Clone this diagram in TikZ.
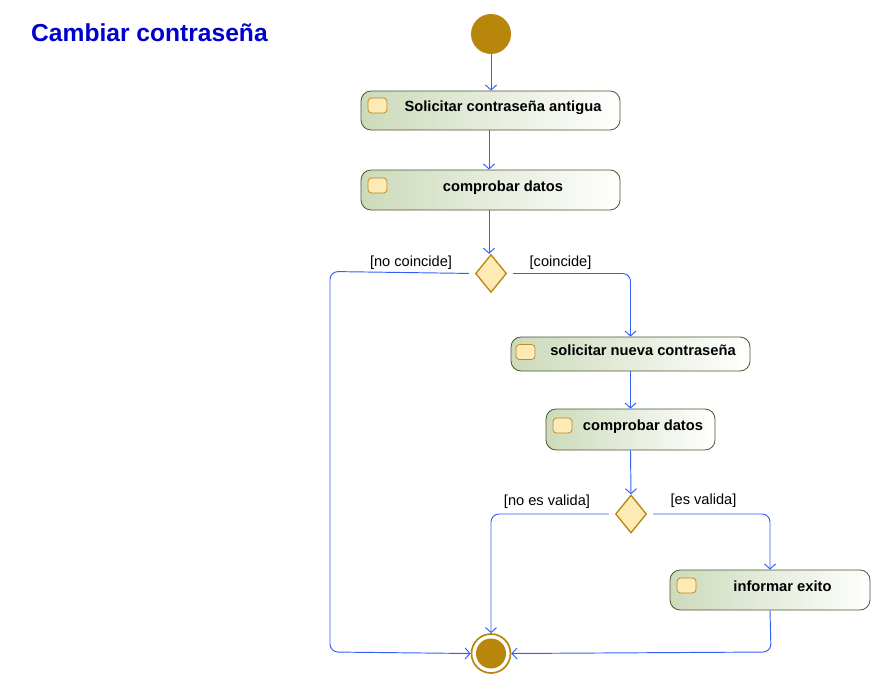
\documentclass[tikz,border=0pt]{standalone}
\usepackage{fontspec}
\setmainfont{Liberation Sans}
\usetikzlibrary{arrows.meta,shapes.geometric}
\definecolor{flow}{RGB}{50,95,250}
\definecolor{gold}{RGB}{184,134,11}
\definecolor{iconfill}{RGB}{253,234,180}
\definecolor{iconborder}{RGB}{192,140,40}
\definecolor{actborder}{RGB}{72,88,44}
\definecolor{actleft}{RGB}{204,218,186}
\definecolor{titleblue}{RGB}{0,0,205}
\begin{document}
\begin{tikzpicture}[x=1pt,y=-1pt,
  action/.style={draw=actborder, rounded corners=10pt, left color=actleft, right color=white,
    inner sep=0pt, line width=0.8pt, font=\fontsize{14.7}{17}\selectfont\bfseries,
    text height=11pt, text depth=9pt},
  icon/.style={draw=iconborder, fill=iconfill, rounded corners=3.5pt, minimum width=19pt,
    minimum height=15pt, inner sep=0pt, line width=0.8pt},
  decision/.style={diamond, draw=gold, fill=iconfill, minimum width=31pt, minimum height=38pt,
    inner sep=0pt, line width=1.3pt},
  flowline/.style={draw=flow, line width=0.95pt, -{Straight Barb[length=5pt,width=11pt]}},
  guard/.style={font=\fontsize{14.6}{17}\selectfont, inner sep=0pt, anchor=base}
]
\useasboundingbox (0,0) rectangle (881,688);
\node[font=\fontsize{24.6}{28}\selectfont\bfseries, text=titleblue, anchor=base west, inner sep=0pt] (title) at (31,41) {Cambiar contraseña};

\node[circle, fill=gold, minimum size=40pt, inner sep=0pt] (ini) at (491,34) {};

\node[action, minimum width=259pt, minimum height=39pt] (a1) at (490.5,110.5) {\hspace*{25pt}Solicitar contraseña antigua};
\node[icon] (i1) at (377.5,105.5) {};
\node[action, minimum width=259pt, minimum height=40pt] (a2) at (490.5,190) {\hspace*{25pt}comprobar datos};
\node[icon] (i2) at (377.5,185.5) {};
\node[decision] (d1) at (491,273.5) {};

\node[action, minimum width=239pt, minimum height=34pt] (a3) at (630.5,354) {\hspace*{25pt}solicitar nueva contraseña};
\node[icon] (i3) at (525.5,352) {};
\node[action, minimum width=169pt, minimum height=41pt] (a4) at (630.5,429.5) {\hspace*{25pt}comprobar datos};
\node[icon] (i4) at (562.5,425.5) {};
\node[decision] (d2) at (631,514) {};

\node[action, minimum width=200pt, minimum height=40pt] (a5) at (770,590) {\hspace*{25pt}informar exito};
\node[icon] (i5) at (686.5,585.5) {};

\node[circle, draw=gold, line width=1.7pt, fill=white, minimum size=39pt, inner sep=0pt] (fin) at (491,653.5) {};
\fill[gold] (fin.center) circle (15pt);

\coordinate (c1) at (330,271.5);
\coordinate (c2) at (330,652);
\coordinate (c3) at (771,652);

\draw[flowline] (ini) -- (a1.north -| ini);
\draw[flowline] (a1.south -| 489,0) -- (a2.north -| 489,0);
\draw[flowline] (a2.south -| 489,0) -- (d1.north -| 489,0);
\draw[flowline, rounded corners=8pt, shorten <=6pt] (d1.west) -- (c1) -- (c2) -- (fin.west);
\draw[flowline, rounded corners=8pt, shorten <=6pt] (d1.east) -| (a3.north);
\draw[flowline] (a3.south) -- (a4.north);
\draw[flowline] (a4.south) -- (d2.north);
\draw[flowline, rounded corners=8pt, shorten <=6pt] (d2.west) -| (fin.north);
\draw[flowline, rounded corners=8pt, shorten <=6pt] (d2.east) -| (a5.north);
\draw[flowline, rounded corners=8pt] (a5.south) -- (c3) -- (fin.east);

\node[guard] (g1) at (411,266) {[no coincide]};
\node[guard] (g2) at (560.5,266) {[coincide]};
\node[guard] (g3) at (547,505) {[no es valida]};
\node[guard] (g4) at (703.5,504) {[es valida]};
\end{tikzpicture}
\end{document}
